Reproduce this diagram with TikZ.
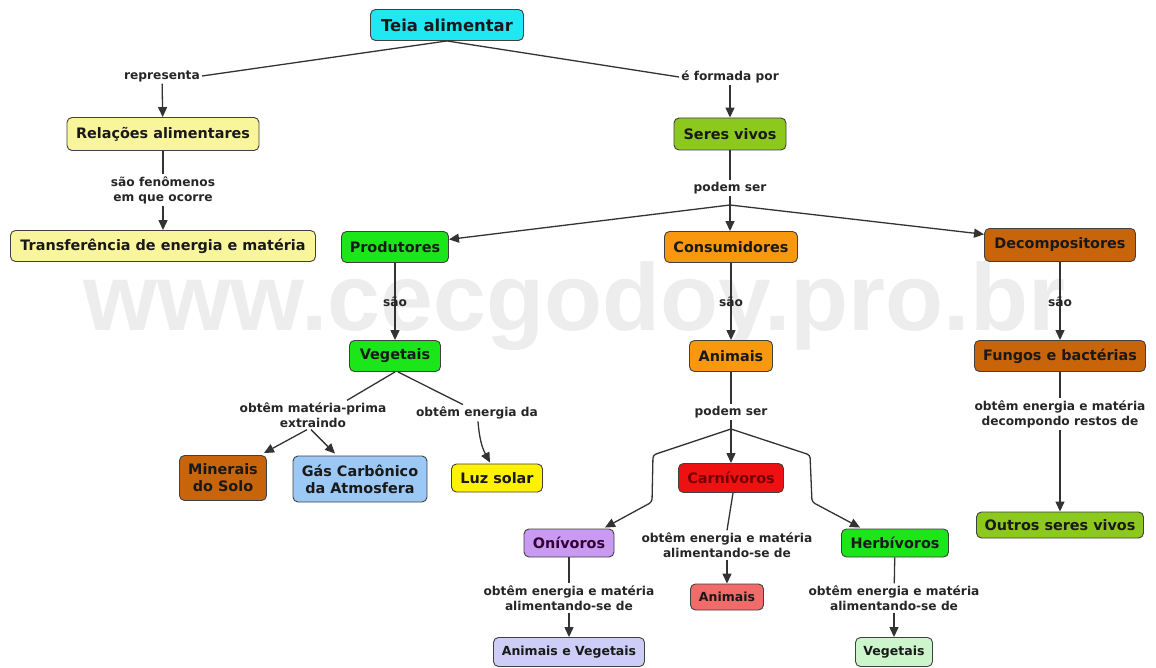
\documentclass[tikz,border=0pt]{standalone}
\usepackage{fontspec}
\setmainfont{DejaVu Sans}
\newfontfamily\wmfont{Liberation Sans}
\usetikzlibrary{arrows.meta,calc}
\definecolor{cTeia}{HTML}{20E8F2}
\definecolor{cPale}{HTML}{F9F59B}
\definecolor{cSeres}{HTML}{8CC81E}
\definecolor{cGreen}{HTML}{1AE61A}
\definecolor{cOrange}{HTML}{F7980F}
\definecolor{cBrown}{HTML}{C8640A}
\definecolor{cBlue}{HTML}{9CC8F5}
\definecolor{cYellow}{HTML}{FFF200}
\definecolor{cRed}{HTML}{EE1111}
\definecolor{cLav}{HTML}{C89AF2}
\definecolor{cPink}{HTML}{F26B6B}
\definecolor{cPeri}{HTML}{CDCDF7}
\definecolor{cMint}{HTML}{CCF5CC}
\definecolor{cLine}{HTML}{333333}
\definecolor{cWm}{HTML}{EDEDED}
\tikzset{
  concept/.style={draw=black!75, line width=0.9pt, rounded corners=5pt,
    font=\bfseries\fontsize{14.4}{17}\selectfont, text=black!90,
    inner sep=0pt, align=center},
  linkl/.style={font=\bfseries\fontsize{12.2}{15}\selectfont, text=black!85,
    align=center, inner sep=2pt},
  conn/.style={draw=cLine, line width=1.3pt},
  arr/.style={conn, -{Triangle[length=10pt,width=9pt]}},
}
\begin{document}
\begin{tikzpicture}[x=1pt,y=-1pt]
\useasboundingbox (0,0) rectangle (1156,668);
\fill[white] (0,0) rectangle (1156,668);
% watermark
\node[font=\wmfont\bfseries\fontsize{95}{95}\selectfont, text=cWm, anchor=base, inner sep=0pt] (wm) at (574,330) {www.cecgodoy.pro.br};

% concepts
\node[concept, fill=cTeia, minimum width=153pt, minimum height=31pt, font=\bfseries\fontsize{16.4}{19}\selectfont] (teia) at (447,25) {Teia alimentar};
\node[concept, fill=cPale, minimum width=192pt, minimum height=33pt] (rel) at (163,134) {Relações alimentares};
\node[concept, fill=cPale, minimum width=305pt, minimum height=31pt] (transf) at (163,246) {Transferência de energia e matéria};
\node[concept, fill=cSeres, minimum width=112pt, minimum height=32pt] (seres) at (730,134) {Seres vivos};
\node[concept, fill=cGreen, minimum width=107pt, minimum height=31pt] (prod) at (395,247) {Produtores};
\node[concept, fill=cOrange, minimum width=133pt, minimum height=31pt] (cons) at (731,247) {Consumidores};
\node[concept, fill=cBrown, minimum width=151pt, minimum height=33pt] (decomp) at (1060,245) {Decompositores};
\node[concept, fill=cGreen, minimum width=91pt, minimum height=31pt] (veg) at (395,356) {Vegetais};
\node[concept, fill=cOrange, minimum width=83pt, minimum height=31pt] (anim) at (731,356) {Animais};
\node[concept, fill=cBrown, minimum width=171pt, minimum height=31pt] (fungos) at (1060,356) {Fungos e bactérias};
\node[concept, fill=cBrown, minimum width=87pt, minimum height=45pt] (miner) at (223,478) {Minerais\\do Solo};
\node[concept, fill=cBlue, minimum width=134pt, minimum height=46pt] (gas) at (360,479) {Gás Carbônico\\da Atmosfera};
\node[concept, fill=cYellow, minimum width=91pt, minimum height=28pt] (luz) at (497,478) {Luz solar};
\node[concept, fill=cRed, text=red!45!black, minimum width=105pt, minimum height=29pt] (carn) at (731,478) {Carnívoros};
\node[concept, fill=cLav, text=violet!40!black, minimum width=90pt, minimum height=28pt] (oniv) at (569,543) {Onívoros};
\node[concept, fill=cGreen, minimum width=107pt, minimum height=28pt] (herb) at (895,543) {Herbívoros};
\node[concept, fill=cPink, minimum width=73pt, minimum height=26pt, font=\bfseries\fontsize{12.5}{15}\selectfont] (anim2) at (727,597) {Animais};
\node[concept, fill=cPeri, minimum width=151pt, minimum height=29pt, font=\bfseries\fontsize{12.5}{15}\selectfont] (aev) at (569,652) {Animais e Vegetais};
\node[concept, fill=cMint, minimum width=77pt, minimum height=29pt, font=\bfseries\fontsize{12.5}{15}\selectfont] (vegl) at (894,652) {Vegetais};
\node[concept, fill=cSeres, minimum width=167pt, minimum height=26pt] (outros) at (1060,525) {Outros seres vivos};

% linking phrases
\node[linkl] (repr) at (162,76) {representa};
\node[linkl] (sfen) at (163,190) {são fenômenos\\em que ocorre};
\node[linkl] (eform) at (730,77) {é formada por};
\node[linkl] (podem1) at (730,188) {podem ser};
\node[linkl] (omp) at (313,415) {obtêm matéria-prima\\extraindo};
\node[linkl] (oed) at (477,413) {obtêm energia da};
\node[linkl] (podem2) at (731,412) {podem ser};
\node[linkl] (lcarn) at (727,545) {obtêm energia e matéria\\alimentando-se de};
\node[linkl] (loniv) at (569,598) {obtêm energia e matéria\\alimentando-se de};
\node[linkl] (lherb) at (894,598) {obtêm energia e matéria\\alimentando-se de};
\node[linkl] (lfung) at (1060,414) {obtêm energia e matéria\\decompondo restos de};

% branch coordinates
\coordinate (br1) at (730,205);
\coordinate (br2) at (731,429);
\coordinate (kl1) at (653,455);
\coordinate (kl2) at (652,502);
\coordinate (kr1) at (810,455);
\coordinate (kr2) at (812,502);

% connectors
\draw[conn] (teia.south) -- (repr.east);
\draw[arr] (repr) -- (rel);
\draw[conn] (rel) -- (sfen);
\draw[arr] (sfen) -- (transf);
\draw[conn] (teia.south) -- (eform.west);
\draw[arr] (eform) -- (seres);
\draw[conn] (seres) -- (podem1);
\draw[conn] (podem1) -- (br1);
\draw[arr] (br1) -- (prod.8);
\draw[arr] (br1) -- ($(cons.north)+(-1,0)$);
\draw[arr] (br1) -- (decomp.172);
\draw[arr] (prod) -- (veg);
\draw[arr] (cons) -- (anim);
\draw[arr] (decomp) -- (fungos);
\draw[conn] (veg.south) -- ($(omp.north)+(34,0)$);
\draw[conn] ($(veg.south)+(3,0)$) -- ($(oed.north)+(-14,0)$);
\draw[arr] ($(omp.south)+(-6,0)$) -- ($(miner.north east)+(-3,-2)$);
\draw[arr] ($(omp.south)+(-2,0)$) -- ($(gas.north)+(-25,-2)$);
\draw[arr] ($(oed.south)+(1,0)$) to[bend right=12] ($(luz.north)+(-7,-1)$);
\draw[conn] (anim) -- (podem2);
\draw[conn] (podem2) -- (br2);
\draw[arr] (br2) -- (carn.north);
\draw[arr, rounded corners=3pt] (br2) -- (kl1) -- (kl2) -- ($(oniv.north)+(36,-1)$);
\draw[arr, rounded corners=3pt] (br2) -- (kr1) -- (kr2) -- ($(herb.north)+(-35,-1)$);
\draw[conn] ($(carn.south)+(2,0)$) -- (lcarn.north);
\draw[arr] (lcarn) -- (anim2);
\draw[conn] (oniv) -- (loniv);
\draw[arr] (loniv) -- (aev);
\draw[conn] (herb) -- (lherb);
\draw[arr] (lherb) -- (vegl);
\draw[conn] (fungos) -- (lfung);
\draw[arr] (lfung) -- (outros);

% "são" labels drawn over their connectors
\node[linkl] (sao1) at (395,302) {são};
\node[linkl] (sao2) at (731,302) {são};
\node[linkl] (sao3) at (1060,302) {são};
\end{tikzpicture}
\end{document}
